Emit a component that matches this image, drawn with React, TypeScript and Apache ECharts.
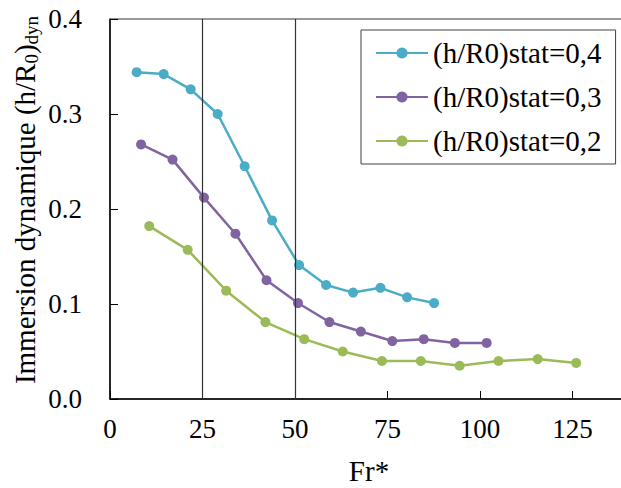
import React, { useEffect, useRef } from "react";
import * as echarts from "echarts";

const frBlue = [7.2, 14.5, 21.8, 29.1, 36.4, 43.8, 51.1, 58.4, 65.7, 73.1, 80.3, 87.6];
const hBlue = [0.344, 0.342, 0.326, 0.3, 0.245, 0.188, 0.141, 0.12, 0.112, 0.117, 0.107, 0.101];
const frPurple = [8.4, 16.9, 25.4, 33.9, 42.3, 50.8, 59.3, 67.8, 76.3, 84.8, 93.2, 101.8];
const hPurple = [0.268, 0.252, 0.212, 0.174, 0.125, 0.101, 0.081, 0.071, 0.061, 0.063, 0.059, 0.059];
const frGreen = [10.6, 21.0, 31.4, 42.0, 52.5, 62.9, 73.5, 84.0, 94.5, 105.0, 115.6, 126.0];
const hGreen = [0.182, 0.157, 0.114, 0.081, 0.063, 0.05, 0.04, 0.04, 0.035, 0.04, 0.042, 0.038];
const seriesNames = ["(h/R0)stat=0,4", "(h/R0)stat=0,3", "(h/R0)stat=0,2"];
const refLines = [25, 50];

const FONT = "'Liberation Serif', 'Times New Roman', serif";

export default function App() {
  const ref = useRef<HTMLDivElement>(null);
  useEffect(() => {
    if (!ref.current) return;
    const chart = echarts.init(ref.current, undefined, { renderer: "svg" });
    const zip = (xs: number[], ys: number[]) => xs.map((x, i) => [x, ys[i]]);
    const mk = (name: string, color: string, data: number[][], extra: any = {}) => ({
      name,
      type: "line",
      data,
      symbol: "circle",
      symbolSize: 10,
      itemStyle: { color },
      lineStyle: { color, width: 2.5 },
      ...extra,
    });
    chart.setOption({
      animation: false,
      grid: {
        left: 110,
        top: 19,
        width: 518,
        height: 380,
        containLabel: false,
        outerBoundsMode: "none",
        show: true,
        borderColor: "#333",
        borderWidth: 1,
        backgroundColor: "transparent",
      },
      xAxis: {
        type: "value",
        min: 0,
        max: 140,
        interval: 25,
        splitLine: { show: false },
        axisLine: { lineStyle: { color: "#000", width: 1.5 } },
        axisTick: { inside: true, length: 8, lineStyle: { color: "#000" } },
        axisLabel: {
          color: "#000",
          fontSize: 27,
          fontFamily: FONT,
          margin: 16,
          showMaxLabel: false,
          formatter: (v: number) => (v > 125 ? "" : String(v)),
        },
      },
      yAxis: {
        type: "value",
        min: 0,
        max: 0.4,
        interval: 0.1,
        splitLine: { show: false },
        axisLine: { show: true, lineStyle: { color: "#000", width: 1.5 } },
        axisTick: { show: true, inside: true, length: 8, lineStyle: { color: "#000" } },
        axisLabel: {
          color: "#000",
          fontSize: 27,
          fontFamily: FONT,
          margin: 28,
          formatter: (v: number) => v.toFixed(1),
        },
      },
      legend: {
        orient: "vertical",
        left: 361,
        top: 30,
        padding: [7, 14, 7, 14],
        borderColor: "#404040",
        borderWidth: 1,
        itemWidth: 52,
        itemHeight: 14,
        itemGap: 12,
        textStyle: { color: "#000", fontSize: 29, fontFamily: FONT, lineHeight: 32 },
        data: seriesNames,
      },
      graphic: [
        {
          type: "text",
          x: 25,
          y: 200,
          rotation: Math.PI / 2,
          style: {
            text: "{a|Immersion dynamique (h/R}{s|0}{a|)}{s|dyn}",
            align: "center",
            verticalAlign: "middle",
            fill: "#000",
            rich: {
              a: { fontSize: 29, fontFamily: FONT, fill: "#000" },
              s: { fontSize: 19, fontFamily: FONT, fill: "#000", padding: [12, 0, 0, 0] },
            },
          },
        },
        {
          type: "text",
          x: 369,
          y: 471,
          style: {
            text: "Fr*",
            align: "center",
            verticalAlign: "middle",
            fill: "#000",
            fontSize: 29,
            lineHeight: 26,
            fontFamily: FONT,
          },
        },
      ],
      series: [
        mk(seriesNames[0], "#4bacc6", zip(frBlue, hBlue), {
          markLine: {
            silent: true,
            symbol: ["none", "none"],
            label: { show: false },
            lineStyle: { color: "#333", type: "solid", width: 1.2 },
            data: refLines.map((v) => ({ xAxis: v })),
          },
        }),
        mk(seriesNames[1], "#8064a2", zip(frPurple, hPurple)),
        mk(seriesNames[2], "#9bbb59", zip(frGreen, hGreen)),
      ],
    });
    return () => chart.dispose();
  }, []);
  return (
    <div
      ref={ref}
      style={{ position: "absolute", left: 0, top: 0, width: 621, height: 488, background: "#fff" }}
    />
  );
}
